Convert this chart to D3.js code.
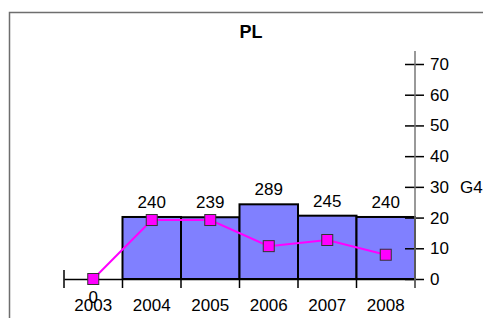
<!DOCTYPE html>
<html>
<head>
<meta charset="utf-8">
<script src="https://cdn.jsdelivr.net/npm/d3@7"></script>
<style>
  body { margin: 0; background: #fff; }
  svg { display: block; font-family: "Liberation Sans", Arial, sans-serif; }
</style>
</head>
<body>
<div id="chart"></div>
<script>
// Data
const years = ['2003', '2004', '2005', '2006', '2007', '2008'];
const barValues = [null, 240, 239, 289, 245, 240];
const lineValues = [0, 19.2, 19.2, 10.7, 12.7, 7.9];
const lineLabels = ['0', null, null, null, null, null];
const rightTicks = [0, 10, 20, 30, 40, 50, 60, 70];

const width = 483;
const height = 318;

const svg = d3.select('#chart').append('svg')
  .attr('width', width)
  .attr('height', height);

// Frame
svg.append('rect')
  .attr('x', 9.5).attr('y', 12.5)
  .attr('width', 500).attr('height', 400)
  .attr('fill', 'none')
  .attr('stroke', '#6e6e6e')
  .attr('stroke-width', 1.5);

// Title
svg.append('text')
  .attr('x', 251).attr('y', 38)
  .attr('text-anchor', 'middle')
  .attr('font-size', 18)
  .attr('font-weight', 'bold')
  .text('PL');

// Scales
const plotLeft = 64;
const plotRight = 415;
const plotTop = 64;
const plotBottom = 279;

const xScale = d3.scaleBand().domain(years).range([plotLeft, plotRight]).padding(0);
const yRight = d3.scaleLinear().domain([0, 70]).range([plotBottom, plotTop]);
const yBar = d3.scaleLinear().domain([0, 832]).range([plotBottom, plotTop]);

// Bars
const barData = years.map((y, i) => ({ year: y, v: barValues[i] })).filter((d) => d.v != null);

svg.selectAll('rect.bar')
  .data(barData)
  .enter()
  .append('rect')
  .attr('class', 'bar')
  .attr('x', (d) => xScale(d.year))
  .attr('y', (d) => yBar(d.v))
  .attr('width', xScale.bandwidth())
  .attr('height', (d) => plotBottom - yBar(d.v))
  .attr('fill', '#8080ff')
  .attr('stroke', '#000')
  .attr('stroke-width', 2);

svg.selectAll('text.barlabel')
  .data(barData)
  .enter()
  .append('text')
  .attr('class', 'barlabel')
  .attr('x', (d) => xScale(d.year) + xScale.bandwidth() / 2)
  .attr('y', (d) => yBar(d.v) - 9)
  .attr('text-anchor', 'middle')
  .attr('font-size', 17)
  .text((d) => d.v);

// X axis
const xAxis = d3.axisBottom(xScale).tickSize(0).tickPadding(0);
const gx = svg.append('g')
  .attr('transform', `translate(0, ${plotBottom})`)
  .call(xAxis);
gx.select('.domain').attr('stroke', '#000').attr('stroke-width', 1.5);
gx.selectAll('.tick text')
  .attr('font-size', 17)
  .attr('fill', '#000')
  .attr('dy', 0)
  .attr('y', 32);

// band boundary ticks
const bounds = years.map((y) => xScale(y)).concat([plotRight]);
svg.selectAll('line.bound')
  .data(bounds)
  .enter()
  .append('line')
  .attr('class', 'bound')
  .attr('x1', (d) => d).attr('x2', (d) => d)
  .attr('y1', (d, i) => (i === 0 ? plotBottom - 9 : plotBottom))
  .attr('y2', plotBottom + 9)
  .attr('stroke', '#000')
  .attr('stroke-width', 1.5);

// Right axis
const yAxis = d3.axisRight(yRight).tickValues(rightTicks).tickSize(9).tickPadding(6);
const gy = svg.append('g')
  .attr('transform', `translate(${plotRight}, 0)`)
  .call(yAxis);
gy.select('.domain').remove();
gy.selectAll('.tick line').attr('x1', -10).attr('stroke', '#000').attr('stroke-width', 1.5);
gy.selectAll('.tick text').attr('font-size', 17).attr('fill', '#000');
gy.append('line')
  .attr('x1', 0).attr('x2', 0)
  .attr('y1', 51).attr('y2', plotBottom + 9)
  .attr('stroke', '#777')
  .attr('stroke-width', 1.5);

svg.append('text')
  .attr('x', 460).attr('y', yRight(30) + 6)
  .attr('font-size', 17)
  .text('G4');

// Line
const lineData = years.map((y, i) => ({ year: y, v: lineValues[i], label: lineLabels[i] }));
const line = d3.line()
  .x((d) => xScale(d.year) + xScale.bandwidth() / 2)
  .y((d) => yRight(d.v));

svg.append('path')
  .datum(lineData)
  .attr('d', line)
  .attr('fill', 'none')
  .attr('stroke', '#ff00ff')
  .attr('stroke-width', 2);

const ms = 11;
svg.selectAll('rect.marker')
  .data(lineData)
  .enter()
  .append('rect')
  .attr('class', 'marker')
  .attr('x', (d) => xScale(d.year) + xScale.bandwidth() / 2 - ms / 2)
  .attr('y', (d) => yRight(d.v) - ms / 2)
  .attr('width', ms)
  .attr('height', ms)
  .attr('fill', '#ff00ff')
  .attr('stroke', '#333')
  .attr('stroke-width', 1);

svg.selectAll('text.linelabel')
  .data(lineData.filter((d) => d.label != null))
  .enter()
  .append('text')
  .attr('class', 'linelabel')
  .attr('x', (d) => xScale(d.year) + xScale.bandwidth() / 2)
  .attr('y', (d) => yRight(d.v) + 24)
  .attr('text-anchor', 'middle')
  .attr('font-size', 17)
  .text((d) => d.label);
</script>
</body>
</html>
